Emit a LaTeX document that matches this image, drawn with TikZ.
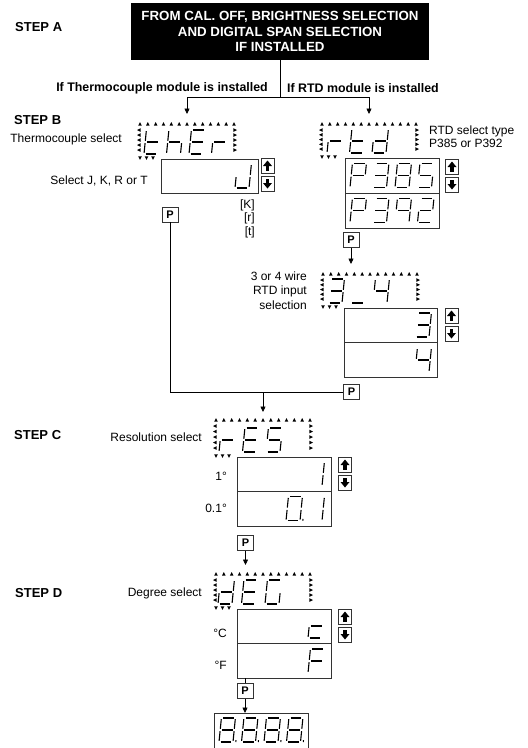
\documentclass[tikz,border=0pt]{standalone}
\usepackage{fontspec}
\setmainfont{Liberation Sans}
\usetikzlibrary{arrows.meta, positioning, calc}

% segments of one display digit (unit: width 1, half height 1)
\def\sega{(0.12,2)--(0.88,2)}
\def\segb{(1,1.9)--(1,1.1)}
\def\segc{(1,0.9)--(1,0.1)}
\def\segd{(0.12,0)--(0.88,0)}
\def\sege{(0,0.1)--(0,0.9)}
\def\segf{(0,1.1)--(0,1.9)}
\def\segg{(0.12,1)--(0.88,1)}
\def\segp{(1.2,0)--(1.2,0.15)}

% characters
\def\lcdt{d,e,f,g}
\def\lcdh{c,e,f,g}
\def\lcdE{a,d,e,f,g}
\def\lcdr{e,g}
\def\lcdJ{b,c,d,e}
\def\lcdd{b,c,d,e,g}
\def\lcdP{a,b,e,f,g}
\def\lcdthree{a,b,c,d,g}
\def\lcdfive{a,c,d,f,g}
\def\lcdeight{a,b,c,d,e,f,g}
\def\lcdnine{a,b,c,f,g}
\def\lcdtwo{a,b,d,e,g}
\def\lcdunder{d}
\def\lcdfour{b,c,f,g}
\def\lcdone{b,c}
\def\lcdzerodot{a,b,c,d,e,f,p}
\def\lcdG{a,c,d,e,f}
\def\lcdc{d,e,g}
\def\lcdF{a,e,f,g}
\def\lcdeightdot{a,b,c,d,e,f,g,p}

% one digit, bottom left at (#1,#2)
\newcommand{\sevseg}[3]{%
  \begin{scope}[shift={(#1,#2)}, x=14pt, y=12pt, xslant=0.1]
    \foreach \s in #3 {\edef\segcmd{\noexpand\draw[segline] \csname seg\s\endcsname;}\segcmd}
  \end{scope}}

% flashing frame round a display: x1,y1,x2,y2
\newcommand{\ledframe}[4]{%
  \foreach \i in {0,...,12}{
    \pgfmathsetmacro{\tx}{#1+3+\i*(#3-#1-6)/12}
    \fill (\tx-1.8,#2+3.6) -- (\tx+1.8,#2+3.6) -- (\tx,#2) -- cycle;}
  \foreach \i in {0,...,4}{
    \pgfmathsetmacro{\ty}{#2+8+\i*(#4-#2-17)/4}
    \fill (#1+3.6,\ty-1.8) -- (#1+3.6,\ty+1.8) -- (#1,\ty) -- cycle;
    \fill (#3-3.6,\ty-1.8) -- (#3-3.6,\ty+1.8) -- (#3,\ty) -- cycle;}
  \foreach \i in {0,1,2}{
    \pgfmathsetmacro{\tx}{#1+3+\i*6.5}
    \fill (\tx-1.8,#4-2.6) -- (\tx+1.8,#4-2.6) -- (\tx,#4+0.8) -- cycle;}}

\begin{document}
\begin{tikzpicture}[x=1pt, y=-1pt,
    steplbl/.style={font=\bfseries\fontsize{13}{15}\selectfont, anchor=west, inner sep=0pt},
    modlbl/.style={font=\bfseries\fontsize{12.4}{14}\selectfont, inner sep=0pt},
    lbl/.style={font=\fontsize{12}{13}\selectfont, inner sep=0pt},
    headbox/.style={fill=black, text=white, font=\bfseries\fontsize{13.3}{15.5}\selectfont, align=center,
      minimum width=298pt, minimum height=57pt, inner sep=0pt},
    lcd/.style={draw=black!80, line width=0.8pt, inner sep=0pt},
    pbox/.style={draw=black!80, line width=0.8pt, minimum width=16pt, minimum height=15pt, inner sep=0pt,
      font=\bfseries\fontsize{11}{11}\selectfont},
    keyup/.style={draw=black!80, line width=0.8pt, minimum width=13pt, minimum height=15pt, inner sep=0pt,
      path picture={
        \fill ([shift={(-4.5pt,-0.5pt)}]path picture bounding box.center) -- ([shift={(0pt,5pt)}]path picture bounding box.center)
          -- ([shift={(4.5pt,-0.5pt)}]path picture bounding box.center) -- cycle;
        \fill ([shift={(-1.8pt,-5pt)}]path picture bounding box.center) rectangle ([shift={(1.8pt,0pt)}]path picture bounding box.center);}},
    keydn/.style={draw=black!80, line width=0.8pt, minimum width=13pt, minimum height=15pt, inner sep=0pt,
      path picture={
        \fill ([shift={(-4.5pt,0.5pt)}]path picture bounding box.center) -- ([shift={(0pt,-5pt)}]path picture bounding box.center)
          -- ([shift={(4.5pt,0.5pt)}]path picture bounding box.center) -- cycle;
        \fill ([shift={(-1.8pt,5pt)}]path picture bounding box.center) rectangle ([shift={(1.8pt,0pt)}]path picture bounding box.center);}},
    segline/.style={line width=1.1pt},
    wire/.style={line width=0.7pt},
    arr/.style={-{Triangle[length=5.5pt,width=5pt]}, line width=0.7pt},
]
\useasboundingbox (0,0) rectangle (528,748);
\clip (0,0) rectangle (528,748);

% step A
\node[headbox] (head) at (280,31.5) {FROM CAL. OFF, BRIGHTNESS SELECTION\\AND DIGITAL SPAN SELECTION\\IF INSTALLED};
\node[steplbl] (stepa) at (15,27) {STEP A};
\coordinate (split) at (280,97);
\coordinate (tcin) at (187,114);
\coordinate (rtdin) at (369,114);
\draw[wire] (head) -- (split);
\draw[arr] (split) -| (tcin);
\draw[arr] (split) -| (rtdin);
\node[modlbl, anchor=east] (tclbl) at (268,88) {If Thermocouple module is installed};
\node[modlbl, anchor=west] (rtdlbl) at (287,88) {If RTD module is installed};

% step B, thermocouple
\node[steplbl] (stepb) at (14,120) {STEP B};
\node[lbl, anchor=east] (tcsel) at (122,139) {Thermocouple select};
\ledframe{137}{122}{237}{159}
\sevseg{144}{154}{\lcdt}
\sevseg{166.5}{154}{\lcdh}
\sevseg{189}{154}{\lcdE}
\sevseg{211.5}{154}{\lcdr}
\node[lcd, minimum width=97pt, minimum height=34pt] (tcval) at (209.5,176) {};
\sevseg{235}{188}{\lcdJ}
\node[lbl, anchor=east] (tcjkrt) at (148,181) {Select J, K, R or T};
\node[keyup] (tcup) at (267.5,165.5) {};
\node[keydn] (tcdn) at (267.5,183.5) {};
\node[lbl, anchor=east] (tck) at (255,205) {[K]};
\node[lbl, anchor=east] (tcr) at (255,218) {[r]};
\node[lbl, anchor=east] (tct) at (255,232) {[t]};
\node[pbox] (tcp) at (170,214.5) {P};

% step B, RTD
\ledframe{319}{122}{419}{158}
\sevseg{327}{153}{\lcdr}
\sevseg{349.5}{153}{\lcdt}
\sevseg{372}{153}{\lcdd}
\node[lbl, anchor=west, align=left] (rtdsel) at (429,136.5) {RTD select type\\P385 or P392};
\node[lcd, minimum width=94pt, minimum height=35pt] (rtdrowa) at (392,175.5) {};
\node[lcd, minimum width=94pt, minimum height=35pt] (rtdrowb) at (392,210.5) {};
\sevseg{350}{187.5}{\lcdP}
\sevseg{372.5}{187.5}{\lcdthree}
\sevseg{395}{187.5}{\lcdeight}
\sevseg{417.5}{187.5}{\lcdfive}
\sevseg{350}{222.5}{\lcdP}
\sevseg{372.5}{222.5}{\lcdthree}
\sevseg{395}{222.5}{\lcdnine}
\sevseg{417.5}{222.5}{\lcdtwo}
\node[keyup] (rtdup) at (452,166.5) {};
\node[keydn] (rtddn) at (452,184.5) {};
\node[pbox] (rtdp) at (351,240) {P};
\coordinate (wirein) at (351,264);
\draw[arr] (rtdp) -- (wirein);

% 3 or 4 wire
\node[lbl, anchor=east, align=right, font=\fontsize{12}{14.5}\selectfont] (wiresel) at (307,290.5) {3 or 4 wire\\RTD input\\selection};
\ledframe{320}{272}{420}{308}
\sevseg{328}{303}{\lcdthree}
\sevseg{350.5}{303}{\lcdunder}
\sevseg{373}{303}{\lcdfour}
\node[lcd, minimum width=93pt, minimum height=34.5pt] (wirerowa) at (390.5,325.25) {};
\node[lcd, minimum width=93pt, minimum height=34.5pt] (wirerowb) at (390.5,359.75) {};
\sevseg{415}{337}{\lcdthree}
\sevseg{415}{372}{\lcdfour}
\node[keyup] (wireup) at (451.5,315.5) {};
\node[keydn] (wiredn) at (451.5,333.5) {};
\node[pbox] (joinp) at (351.5,392) {P};
\draw[wire] (tcp) |- (joinp);
\coordinate (join) at (263,392);
\coordinate (resin) at (263,412);
\draw[arr] (join) -- (resin);

% step C
\node[steplbl] (stepc) at (14,435) {STEP C};
\node[lbl, anchor=east] (ressel) at (202,437) {Resolution select};
\ledframe{213}{418}{313}{457}
\sevseg{219}{452}{\lcdr}
\sevseg{242.5}{452}{\lcdE}
\sevseg{266}{452}{\lcdfive}
\node[lcd, minimum width=94pt, minimum height=34.5pt] (resrowa) at (284,474.25) {};
\node[lcd, minimum width=94pt, minimum height=34.5pt] (resrowb) at (284,508.75) {};
\sevseg{308}{486}{\lcdone}
\sevseg{286}{520.75}{\lcdzerodot}
\sevseg{308}{520.75}{\lcdone}
\node[lbl, anchor=east] (resone) at (227,476) {1°};
\node[lbl, anchor=east] (restenth) at (227,508) {0.1°};
\node[keyup] (resup) at (345,464.5) {};
\node[keydn] (resdn) at (345,482.5) {};
\node[pbox] (resp) at (245.5,543) {P};
\coordinate (degin) at (245.5,565);
\draw[arr] (resp) -- (degin);

% step D
\node[steplbl] (stepd) at (15,593) {STEP D};
\node[lbl, anchor=east] (degsel) at (202,593) {Degree select};
\ledframe{213}{572}{313}{609}
\sevseg{218}{604}{\lcdd}
\sevseg{241.5}{604}{\lcdE}
\sevseg{265}{604}{\lcdG}
\node[lcd, minimum width=94pt, minimum height=34.5pt] (degrowa) at (284,626.25) {};
\node[lcd, minimum width=94pt, minimum height=34.5pt] (degrowb) at (284,660.75) {};
\sevseg{308}{638}{\lcdc}
\sevseg{308}{673}{\lcdF}
\node[lbl, anchor=east] (degc) at (227,633) {°C};
\node[lbl, anchor=east] (degf) at (227,665) {°F};
\node[keyup] (degup) at (345,616.5) {};
\node[keydn] (degdn) at (345,634.5) {};
\coordinate (degout) at (245,678);
\node[pbox] (finp) at (245,691) {P};
\draw[wire] (degout) -- (finp);
\coordinate (finin) at (245,713);
\draw[arr] (finp) -- (finin);
\node[lcd, anchor=north west, minimum width=94pt, minimum height=60pt] (final) at (214,713) {};
\sevseg{219}{742}{\lcdeightdot}
\sevseg{241.5}{742}{\lcdeightdot}
\sevseg{264}{742}{\lcdeightdot}
\sevseg{286.5}{742}{\lcdeightdot}
\end{tikzpicture}
\end{document}
